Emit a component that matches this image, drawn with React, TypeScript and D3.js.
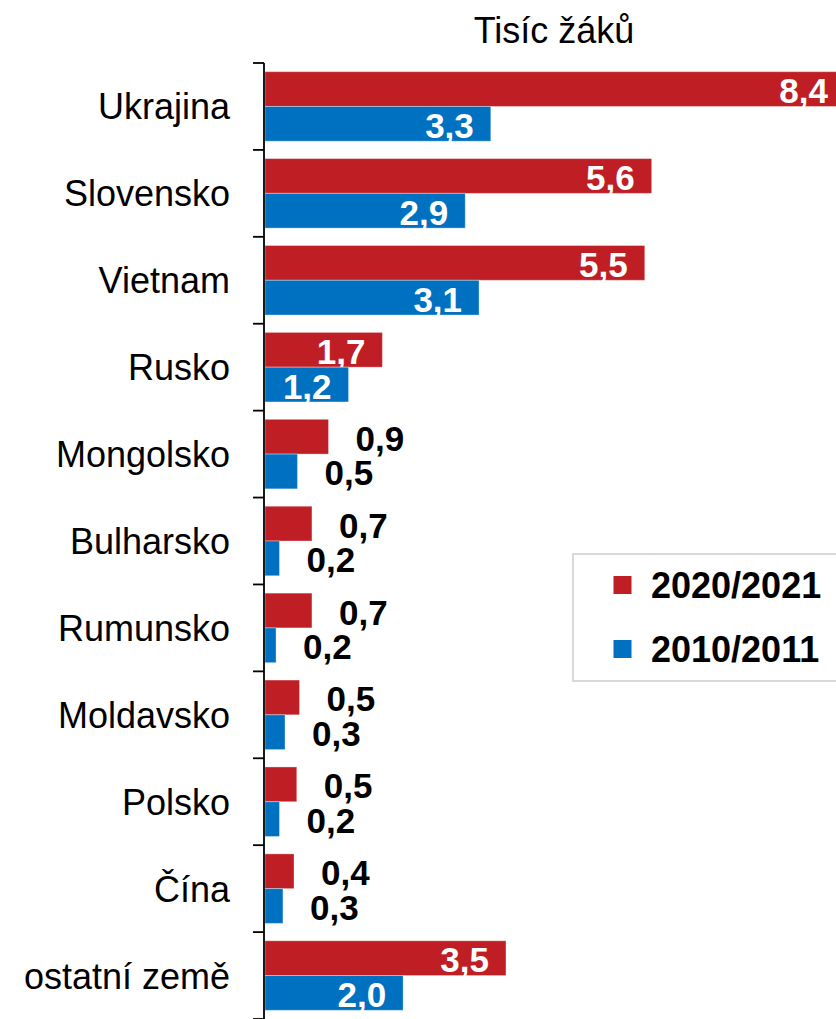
import React from "react";
import * as d3 from "d3";

const categories = [
  "Ukrajina",
  "Slovensko",
  "Vietnam",
  "Rusko",
  "Mongolsko",
  "Bulharsko",
  "Rumunsko",
  "Moldavsko",
  "Polsko",
  "Čína",
  "ostatní země",
];
const series = ["2020/2021", "2010/2011"];
const values2021 = [8.4, 5.6, 5.5, 1.7, 0.92, 0.68, 0.68, 0.5, 0.46, 0.42, 3.49];
const values2011 = [3.27, 2.9, 3.1, 1.21, 0.47, 0.21, 0.16, 0.29, 0.21, 0.26, 2.0];
const title = "Tisíc žáků";

const colors = ["#BE1E24", "#0070C0"];
const FONT = "'Liberation Sans', Arial, sans-serif";

export default function App() {
  const W = 836;
  const H = 1019;
  const x0 = 265;
  const x = d3.scaleLinear().domain([0, 8.4]).range([x0, 845]);
  const y = d3.scaleBand<string>().domain(categories).range([63, 1019]).padding(0);
  const inner = d3
    .scaleBand<string>()
    .domain(series)
    .range([0, y.bandwidth()])
    .paddingInner(0)
    .paddingOuter(0.25);
  const seriesVals = [values2021, values2011];
  const fmt = (v: number) => v.toFixed(1).replace(".", ",");
  const tickYs = [...categories.map((c) => y(c) as number), 1019];

  return (
    <svg
      width={W}
      height={H}
      style={{ position: "absolute", left: 0, top: 0, display: "block", background: "#fff" }}
      fontFamily={FONT}
    >
      <rect x={0} y={0} width={W} height={H} fill="#fff" />
      <text x={554} y={43} textAnchor="middle" fontSize={36} fill="#000">
        {title}
      </text>
      {categories.map((c, i) => (
        <g key={c}>
          {series.map((s, j) => {
            const v = seriesVals[j][i];
            const by = (y(c) as number) + (inner(s) as number);
            const bh = inner.bandwidth();
            const xe = x(v);
            const inside = v >= 1;
            return (
              <g key={s}>
                <rect
                  x={x0}
                  y={by}
                  width={xe - x0}
                  height={bh}
                  fill={colors[j]}
                  stroke="#ffffff"
                  strokeOpacity={0.35}
                  strokeWidth={1}
                />
                <text
                  x={inside ? xe - 17 : xe + 27}
                  y={by + bh / 2}
                  dy="0.4em"
                  textAnchor={inside ? "end" : "start"}
                  fontSize={35}
                  fontWeight="bold"
                  fill={inside ? "#fff" : "#000"}
                >
                  {fmt(v)}
                </text>
              </g>
            );
          })}
          <text
            x={230}
            y={(y(c) as number) + y.bandwidth() / 2}
            dy="0.36em"
            textAnchor="end"
            fontSize={36}
            fill="#000"
          >
            {c}
          </text>
        </g>
      ))}
      <line x1={264} x2={264} y1={63} y2={1019} stroke="#000" strokeWidth={1.8} />
      {tickYs.map((ty, i) => (
        <line key={i} x1={253} x2={264} y1={ty} y2={ty} stroke="#000" strokeWidth={1.8} />
      ))}
      <g>
        <rect x={573} y={554} width={290} height={127} fill="#fff" stroke="#d9d9d9" strokeWidth={2} />
        {series.map((s, j) => (
          <g key={s}>
            <rect x={613.5} y={576 + j * 64} width={18} height={18} fill={colors[j]} />
            <text x={651} y={598 + j * 64} fontSize={36} fontWeight="bold" fill="#000">
              {s}
            </text>
          </g>
        ))}
      </g>
    </svg>
  );
}
